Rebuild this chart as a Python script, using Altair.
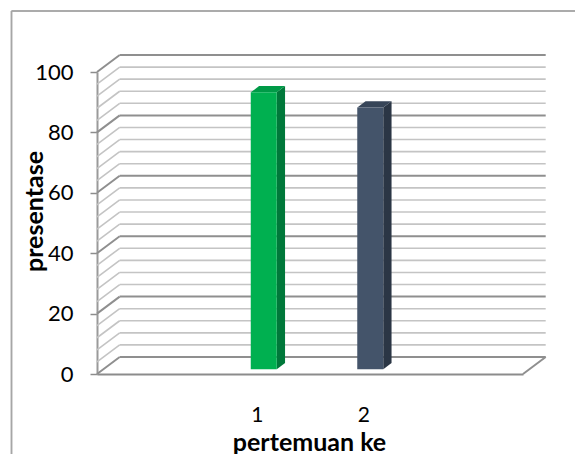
import altair as alt
import pandas as pd

# ---- data ----
categories = ["1", "2"]
values = [91.7, 86.7]
slot_count = 4          # category slots along the floor
first_slot = 1          # the two bars sit in slots 1 and 2
y_ticks = [0, 20, 40, 60, 80, 100]
minor_step = 4
major_step = 20

front_colors = ["#00B050", "#44546A"]
side_colors = ["#00783A", "#2B3645"]
top_colors = ["#009A47", "#374558"]

# ---- geometry / styling (pixels) ----
W, H = 426, 302
DX, DY = 22.7, 17.0        # depth of the back wall
BX, BY = 7.0, 4.7          # bar front-face depth offset
BDX, BDY = 8.3, 6.3        # bar depth
BAR_W = 26
FONT = "Lato"

ux = slot_count / W        # data units per pixel
uy = 100 / H

xs = alt.Scale(domain=[0, slot_count], nice=False, zero=False, padding=0)
ys = alt.Scale(domain=[0, 100], nice=False, zero=False, padding=0)

label_expr = "[" + ",".join("'%s'" % c for c in categories) + "][round(datum.value - %s)]" % (first_slot + 0.5)

x_axis = alt.Axis(
    values=[first_slot + i + 0.5 for i in range(len(categories))],
    labelExpr=label_expr,
    ticks=False, grid=False,
    domainColor="#8c8c8c", domainWidth=2,
    labelFont=FONT, labelFontSize=21, labelColor="#000000", labelPadding=30,
    title="pertemuan ke", titleFont=FONT, titleFontSize=25, titleFontWeight="bold",
    titleColor="#000000", titleX=212, titleY=76, titleBaseline="alphabetic", titleAlign="center",
)
y_axis = alt.Axis(
    values=y_ticks, grid=False,
    tickSize=7, tickColor="#8c8c8c", tickWidth=1.5,
    domainColor="#9a9a9a", domainWidth=2,
    labelFont=FONT, labelFontSize=22, labelColor="#000000", labelPadding=17,
    title="presentase", titleFont=FONT, titleFontSize=25, titleFontWeight="bold",
    titleColor="#000000", titleX=-63, titleY=139, titleAngle=-90,
    titleAlign="center", titleBaseline="middle",
)

levels = list(range(0, 101, minor_step))
grid = pd.DataFrame({
    "level": levels,
    "x0": 0,
    "x1": slot_count,
    "kind": ["major" if l % major_step == 0 else "minor" for l in levels],
})
grid_color = alt.Color("kind:N", scale=alt.Scale(domain=["minor", "major"], range=["#c4c4c4", "#8f8f8f"]), legend=None)
grid_size = alt.Size("kind:N", scale=alt.Scale(domain=["minor", "major"], range=[1.6, 2.0]), legend=None)

back = alt.Chart(grid).mark_rule(xOffset=DX, x2Offset=DX, yOffset=-DY).encode(
    x=alt.X("x0:Q", scale=xs, axis=x_axis),
    x2="x1:Q",
    y=alt.Y("level:Q", scale=ys, axis=y_axis),
    color=grid_color,
    size=grid_size,
)

diag_df = pd.concat([
    grid.assign(xd=0),
    pd.DataFrame({"level": [0], "x0": [0], "x1": [slot_count], "kind": ["major"], "xd": [slot_count]}),
])
side_wall = alt.Chart(diag_df).mark_rule(x2Offset=DX, y2Offset=-DY).encode(
    x=alt.X("xd:Q", scale=xs, axis=x_axis),
    x2="xd:Q",
    y=alt.Y("level:Q", scale=ys, axis=y_axis),
    y2="level:Q",
    color=grid_color,
    size=grid_size,
)

# bars
bars = pd.DataFrame({
    "cat": categories,
    "pos": [first_slot + i + 0.5 for i in range(len(categories))],
    "value": values,
    "base": 0,
    "front": front_colors,
    "side": side_colors,
    "top": top_colors,
})

hw = BAR_W / 2 * ux
ox, oy = BX * ux, BY * uy          # front face depth shift in data units
ddx, ddy = BDX * ux, BDY * uy      # bar depth in data units
side_rows, top_rows = [], []
for r in bars.to_dict("records"):
    p, v = r["pos"], r["value"]
    side_rows.append({"cat": r["cat"], "sx": p + hw + ox, "stop": v + oy, "sbot": oy, "c": r["side"]})
    side_rows.append({"cat": r["cat"], "sx": p + hw + ox + ddx, "stop": v + oy + ddy, "sbot": oy + ddy, "c": r["side"]})
    top_rows.append({"cat": r["cat"], "ty": v + oy, "ta": p - hw + ox, "tb": p + hw + ox, "c": r["top"]})
    top_rows.append({"cat": r["cat"], "ty": v + oy + ddy, "ta": p - hw + ox + ddx, "tb": p + hw + ox + ddx, "c": r["top"]})
side_df = pd.DataFrame(side_rows)
top_df = pd.DataFrame(top_rows)

side_face = alt.Chart(side_df).mark_area().encode(
    x=alt.X("sx:Q", scale=xs, axis=x_axis),
    y=alt.Y("stop:Q", scale=ys, axis=y_axis),
    y2="sbot:Q",
    detail="cat:N",
    fill=alt.Fill("c:N", scale=None),
)

top_face = alt.Chart(top_df).mark_area(orient="horizontal").encode(
    y=alt.Y("ty:Q", scale=ys, axis=y_axis),
    x=alt.X("ta:Q", scale=xs, axis=x_axis),
    x2="tb:Q",
    detail="cat:N",
    fill=alt.Fill("c:N", scale=None),
)

front_face = alt.Chart(bars).mark_bar(size=BAR_W, xOffset=BX, yOffset=-BY, y2Offset=-BY).encode(
    x=alt.X("pos:Q", scale=xs, axis=x_axis),
    y=alt.Y("value:Q", scale=ys, axis=y_axis),
    y2="base:Q",
    color=alt.Color("front:N", scale=None),
)

frame_top = alt.Chart(bars).mark_rule(color="#a6a6a6", strokeWidth=1.5).encode(
    x=alt.value(-85.5), x2=alt.value(480), y=alt.value(-61)
)
frame_left = alt.Chart(bars).mark_rule(color="#a6a6a6", strokeWidth=1.5).encode(
    x=alt.value(-85.5), y=alt.value(-61), y2=alt.value(385)
)

chart = alt.layer(
    back, side_wall, side_face, top_face, front_face, frame_top, frame_left
).properties(
    width=W, height=H,
    autosize=alt.AutoSizeParams(type="none"),
    padding={"left": 97, "top": 72, "right": 52, "bottom": 80},
    background="#ffffff",
).configure_view(strokeWidth=0)

chart.save("out.html", embed_options={"renderer": "svg", "actions": False})
